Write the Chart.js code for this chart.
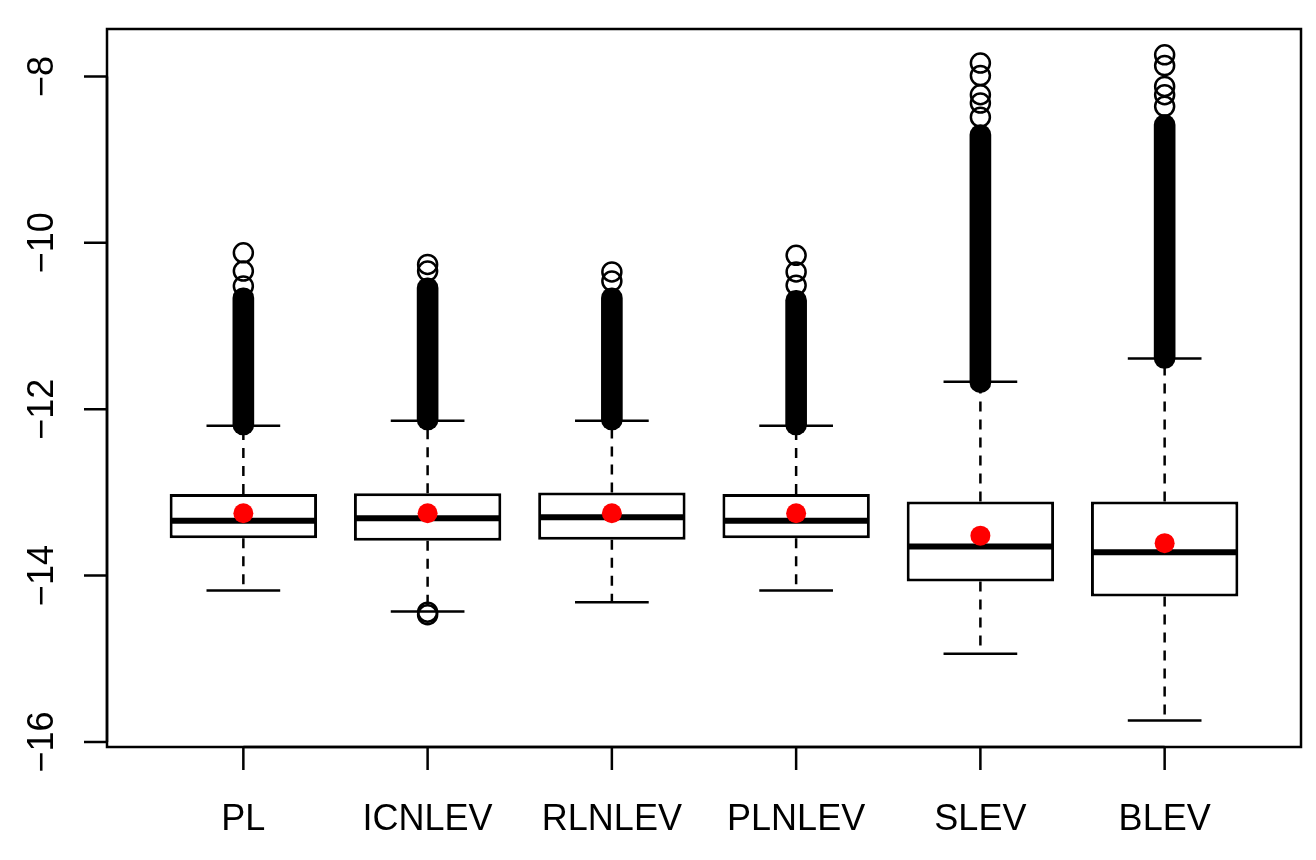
<!DOCTYPE html>
<html>
<head>
<meta charset="utf-8">
<script src="https://cdn.jsdelivr.net/npm/chart.js@4.4.0/dist/chart.umd.min.js"></script>
<style>
  html, body { margin: 0; background: #fff; }
  #wrap { width: 1316px; height: 860px; }
</style>
</head>
<body>
<div id="wrap"><canvas id="chart"></canvas></div>
<script>
// --- data ---
const categories = ['PL', 'ICNLEV', 'RLNLEV', 'PLNLEV', 'SLEV', 'BLEV'];
const whiskerLow  = [-14.18, -14.43, -14.32, -14.18, -14.94, -15.74];
const q1          = [-13.55, -13.58, -13.57, -13.55, -14.07, -14.25];
const medians     = [-13.34, -13.31, -13.30, -13.34, -13.65, -13.72];
const q3          = [-13.02, -13.01, -13.00, -13.02, -13.11, -13.11];
const whiskerHigh = [-12.20, -12.14, -12.14, -12.20, -11.67, -11.39];
const means       = [-13.25, -13.25, -13.25, -13.25, -13.52, -13.61];
// range where the outlier circles pile up into a solid column
const denseOutlierLow  = [-12.31, -12.25, -12.25, -12.31, -11.80, -11.51];
const denseOutlierHigh = [-10.54, -10.42, -10.54, -10.57, -8.58, -8.46];
// single outliers that can still be told apart
const sparseOutliers = [
  [-10.12, -10.34, -10.52],
  [-10.26, -10.34, -14.44, -14.47],
  [-10.35, -10.46],
  [-10.15, -10.35, -10.51],
  [-7.84, -7.99, -8.22, -8.32, -8.49],
  [-7.74, -7.87, -8.12, -8.22, -8.36]
];
const yTicks = [-16, -14, -12, -10, -8];

const FONT = '36px "Liberation Sans", Arial, Helvetica, sans-serif';

// whiskers, staples and medians drawn right after the boxes
const boxParts = {
  id: 'boxParts',
  afterDatasetDraw(chart, args) {
    if (args.index !== 0) return;
    const ctx = chart.ctx, xs = chart.scales.x, ys = chart.scales.y;
    ctx.save();
    ctx.strokeStyle = '#000';
    categories.forEach((c, i) => {
      const x = xs.getPixelForValue(i + 1);
      const capL = xs.getPixelForValue(i + 0.8), capR = xs.getPixelForValue(i + 1.2);
      const boxL = xs.getPixelForValue(i + 0.6), boxR = xs.getPixelForValue(i + 1.4);
      // dashed whiskers
      ctx.lineWidth = 2.5;
      ctx.setLineDash([10, 8]);
      ctx.beginPath();
      ctx.moveTo(x, ys.getPixelForValue(q3[i]));
      ctx.lineTo(x, ys.getPixelForValue(whiskerHigh[i]));
      ctx.moveTo(x, ys.getPixelForValue(q1[i]));
      ctx.lineTo(x, ys.getPixelForValue(whiskerLow[i]));
      ctx.stroke();
      // staples
      ctx.setLineDash([]);
      ctx.beginPath();
      [whiskerHigh[i], whiskerLow[i]].forEach(v => {
        const y = ys.getPixelForValue(v);
        ctx.moveTo(capL, y);
        ctx.lineTo(capR, y);
      });
      ctx.stroke();
      // median
      ctx.lineWidth = 6;
      ctx.beginPath();
      const ym = ys.getPixelForValue(medians[i]);
      ctx.moveTo(boxL + 1, ym);
      ctx.lineTo(boxR - 1, ym);
      ctx.stroke();
    });
    ctx.restore();
  }
};

// R style frame and axes
const frameAxes = {
  id: 'frameAxes',
  afterDraw(chart) {
    const ctx = chart.ctx, xs = chart.scales.x, ys = chart.scales.y;
    const a = chart.chartArea;
    ctx.save();
    ctx.strokeStyle = '#000';
    ctx.fillStyle = '#000';
    ctx.lineWidth = 2.5;
    ctx.strokeRect(a.left, a.top, a.right - a.left, a.bottom - a.top);

    // y axis
    ctx.beginPath();
    ctx.moveTo(a.left, ys.getPixelForValue(yTicks[0]));
    ctx.lineTo(a.left, ys.getPixelForValue(yTicks[yTicks.length - 1]));
    yTicks.forEach(v => {
      const y = ys.getPixelForValue(v);
      ctx.moveTo(a.left - 23, y);
      ctx.lineTo(a.left, y);
    });
    ctx.stroke();
    ctx.font = FONT;
    ctx.textAlign = 'center';
    ctx.textBaseline = 'alphabetic';
    yTicks.forEach(v => {
      const y = ys.getPixelForValue(v);
      ctx.save();
      ctx.translate(a.left - 54, y);
      ctx.rotate(-Math.PI / 2);
      ctx.fillText(String(v).replace('-', '\u2212'), 0, 0);
      ctx.restore();
    });

    // x axis
    ctx.beginPath();
    ctx.moveTo(xs.getPixelForValue(1), a.bottom);
    ctx.lineTo(xs.getPixelForValue(categories.length), a.bottom);
    categories.forEach((c, i) => {
      const x = xs.getPixelForValue(i + 1);
      ctx.moveTo(x, a.bottom);
      ctx.lineTo(x, a.bottom + 23);
    });
    ctx.stroke();
    categories.forEach((c, i) => {
      ctx.fillText(c, xs.getPixelForValue(i + 1), a.bottom + 83);
    });
    ctx.restore();
  }
};

const outlierPoints = [];
sparseOutliers.forEach((list, i) => list.forEach(v => outlierPoints.push({ x: i + 1, y: v })));

new Chart(document.getElementById('chart'), {
  type: 'bar',
  data: {
    datasets: [
      {
        label: 'box',
        data: categories.map((c, i) => ({ x: i + 1, y: [q1[i], q3[i]] })),
        backgroundColor: '#fff',
        borderColor: '#000',
        borderWidth: 3,
        borderSkipped: false,
        barPercentage: 0.8,
        categoryPercentage: 1,
        grouped: false,
        order: 4
      },
      {
        label: 'dense outliers',
        data: categories.map((c, i) => ({ x: i + 1, y: [denseOutlierLow[i], denseOutlierHigh[i]] })),
        backgroundColor: '#000',
        borderWidth: 0,
        barThickness: 21,
        borderRadius: 10.5,
        borderSkipped: false,
        grouped: false,
        order: 3
      },
      {
        type: 'scatter',
        label: 'outliers',
        data: outlierPoints,
        pointRadius: 9.5,
        pointBorderWidth: 2.5,
        pointBorderColor: '#000',
        pointBackgroundColor: 'rgba(0,0,0,0)',
        order: 2
      },
      {
        type: 'scatter',
        label: 'mean',
        data: categories.map((c, i) => ({ x: i + 1, y: means[i] })),
        pointRadius: 10,
        pointBorderWidth: 0,
        pointBackgroundColor: '#ff0000',
        order: 1
      }
    ]
  },
  options: {
    responsive: true,
    maintainAspectRatio: false,
    animation: false,
    events: [],
    layout: { padding: { left: 107, right: 15, top: 29, bottom: 113 } },
    plugins: { legend: { display: false }, tooltip: { enabled: false } },
    scales: {
      x: {
        type: 'linear', min: 0.26, max: 6.74, offset: false, display: false,
        afterBuildTicks: s => { s.ticks = categories.map((c, i) => ({ value: i + 1 })); }
      },
      y: { type: 'linear', min: -16.06, max: -7.43, display: false }
    }
  },
  plugins: [boxParts, frameAxes]
});
</script>
</body>
</html>
